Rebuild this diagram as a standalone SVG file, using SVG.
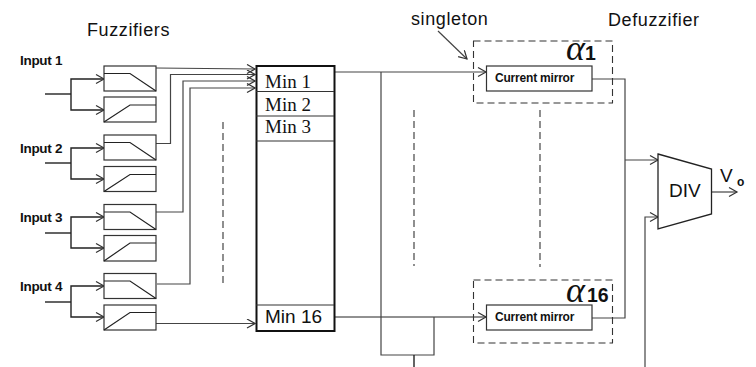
<svg xmlns="http://www.w3.org/2000/svg" width="756" height="367" viewBox="0 0 756 367">
<defs>
<marker id="a" markerUnits="userSpaceOnUse" markerWidth="12" markerHeight="12" refX="9" refY="5" orient="auto"><path d="M1 0.5L9 5L1 9.5" fill="none" stroke="#333" stroke-width="1.2"/></marker>
</defs>
<style>
text{font-family:"Liberation Sans",Arial,sans-serif;fill:#111}
.w{fill:none;stroke:#444;stroke-width:1.2}
.k{fill:none;stroke:#222;stroke-width:1.4}
.h{fill:none;stroke:#222;stroke-width:1}
.b{fill:#fff;stroke:#333;stroke-width:1.2}
.c{fill:none;stroke:#222;stroke-width:1.2}
.d{fill:none;stroke:#333;stroke-width:1.1;stroke-dasharray:7 4}
.i{font-size:13.500px;font-weight:bold;letter-spacing:-0.300px}
.t{font-size:18px;letter-spacing:0.600px}
.m{font-family:"Liberation Serif",serif;font-size:19px}
.cm{font-size:12px;font-weight:bold;letter-spacing:-0.200px}
.al{font-family:"Liberation Serif",serif;font-style:italic;font-size:36px}
.n{font-size:19.500px;font-weight:bold}
</style>
<rect width="756" height="367" fill="#fff"/>
<g id="connectors">
<path class="k" d="M45 94H71"/><path class="k" d="M71 94V79H104" marker-end="url(#a)"/><path class="k" d="M71 94V110H104" marker-end="url(#a)"/>
<path class="k" d="M45 163H71"/><path class="k" d="M71 163V148H104" marker-end="url(#a)"/><path class="k" d="M71 163V179H104" marker-end="url(#a)"/>
<path class="k" d="M45 233H71"/><path class="k" d="M71 233V217H104" marker-end="url(#a)"/><path class="k" d="M71 233V248H104" marker-end="url(#a)"/>
<path class="k" d="M45 302H71"/><path class="k" d="M71 302V286H104" marker-end="url(#a)"/><path class="k" d="M71 302V317H104" marker-end="url(#a)"/>
<path class="w" d="M156 68L255 69" marker-end="url(#a)"/>
<path class="w" d="M156 143.500H170.500V74.500H255" marker-end="url(#a)"/>
<path class="w" d="M156 212H183V81H255" marker-end="url(#a)"/>
<path class="w" d="M157 284H190V88H255" marker-end="url(#a)"/>
<path class="w" d="M156 323.500H255" marker-end="url(#a)"/>
<path class="w" d="M335 72H486" marker-end="url(#a)"/>
<path class="h" d="M335 317H486" marker-end="url(#a)"/>
<path class="w" d="M381 72V355H434V317"/>
<path class="k" d="M414 355V367"/>
<path class="w" d="M592 79H625V318H592"/>
<path class="w" d="M625 160H658" marker-end="url(#a)"/>
<path class="w" d="M645 367V217H658" marker-end="url(#a)"/>
<path class="w" d="M712 192H737" marker-end="url(#a)"/>
<path class="w" d="M438 31L467 59" marker-end="url(#a)"/>
<path class="d" d="M223 122V285"/>
<path class="d" d="M414 110V266"/>
<path class="d" d="M540 110V267"/>
</g>
<g id="fuzz1-1"><rect class="b" x="104" y="66" width="52" height="25"/><path class="c" d="M104 73.500H130L156 91"/></g>
<g id="fuzz1-2"><rect class="b" x="104" y="97" width="52" height="25"/><path class="c" d="M104 122L130 105H156"/></g>
<g id="fuzz2-1"><rect class="b" x="104" y="135" width="52" height="25"/><path class="c" d="M104 142.500H130L156 160"/></g>
<g id="fuzz2-2"><rect class="b" x="104" y="166.500" width="52" height="25"/><path class="c" d="M104 191.500L130 174.500H156"/></g>
<g id="fuzz3-1"><rect class="b" x="104" y="204.500" width="52" height="25"/><path class="c" d="M104 212H130L156 229.500"/></g>
<g id="fuzz3-2"><rect class="b" x="104" y="235.500" width="52" height="25.500"/><path class="c" d="M104 261L130 243H156"/></g>
<g id="fuzz4-1"><rect class="b" x="104" y="273.500" width="52" height="25"/><path class="c" d="M104 281H130L156 298.500"/></g>
<g id="fuzz4-2"><rect class="b" x="104" y="305" width="52" height="25"/><path class="c" d="M104 330L130 312.500H156"/></g>
<g id="min-block">
<rect x="256.500" y="66" width="78" height="265" fill="#fff" stroke="#111" stroke-width="2"/>
<path d="M256 91.500H334M256 116H334M256 141H334M256 305H334" stroke="#333" stroke-width="1.2" fill="none"/>
<text class="m" x="265" y="88">Min 1</text>
<text class="m" x="265" y="111">Min 2</text>
<text class="m" x="265" y="133">Min 3</text>
<text x="265" y="323" font-size="19">Min 16</text>
</g>
<g id="singleton-1">
<rect class="d" x="473.500" y="41" width="139" height="62"/>
<rect class="b" x="486.500" y="66" width="105.500" height="25"/>
<text class="cm" x="495" y="82">Current mirror</text>
<text class="al" x="566" y="60">α</text><text class="n" x="585" y="60">1</text>
</g>
<g id="singleton-16">
<rect class="d" x="473.500" y="280" width="139" height="63"/>
<rect class="b" x="486.500" y="305" width="105.500" height="25"/>
<text class="cm" x="495" y="321">Current mirror</text>
<text class="al" x="566" y="302">α</text><text class="n" x="587" y="302">16</text>
</g>
<g id="div">
<path d="M658 154L711.500 169V214L658 229Z" fill="#fff" stroke="#222" stroke-width="1.3"/>
<text x="669" y="197" font-size="19">DIV</text>
</g>
<g id="labels">
<text class="i" x="20" y="65">Input 1</text>
<text class="i" x="20" y="153">Input 2</text>
<text class="i" x="20" y="222">Input 3</text>
<text class="i" x="20" y="291">Input 4</text>
<text class="t" x="87" y="36">Fuzzifiers</text>
<text class="t" x="411" y="25">singleton</text>
<text class="t" x="608" y="26">Defuzzifier</text>
<text x="720" y="182" font-size="19">V</text>
<text x="737" y="186" font-size="12" font-weight="bold">o</text>
</g>
</svg>
